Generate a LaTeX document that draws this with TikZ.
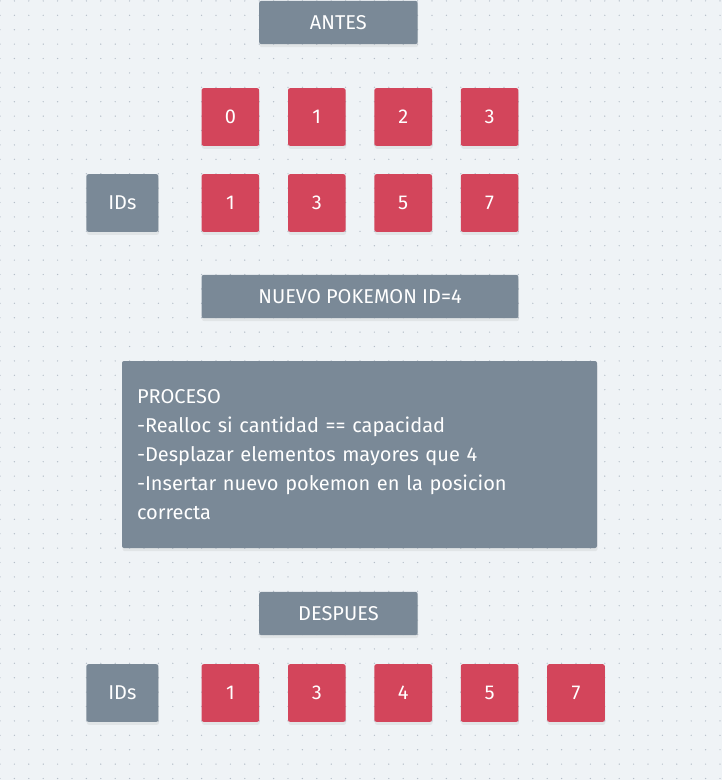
\documentclass[tikz,border=0pt]{standalone}
\usepackage{fontspec}
\setsansfont{Fira Sans}
\usetikzlibrary{positioning, shadows}
\definecolor{pkBack}{RGB}{239, 243, 246}
\definecolor{pkDot}{RGB}{180, 190, 200}
\definecolor{pkGray}{RGB}{122, 137, 151}
\definecolor{pkRed}{RGB}{211, 69, 91}
\tikzset{
    base/.style={
        font=\sffamily\fontsize{20}{29}\selectfont,
        text=white,
        align=center
    },
    panel/.style={
        base,
        rectangle,
        rounded corners=2pt,
        fill=pkGray,
        inner sep=0pt,
        drop shadow={opacity=0.12, shadow xshift=0.5pt, shadow yshift=-3pt}
    },
    cell/.style={
        panel,
        fill=pkRed,
        minimum width=57.6pt,
        minimum height=57.6pt
    },
    title/.style={
        panel,
        minimum height=43.2pt
    }
}

\begin{document}
\begin{tikzpicture}[x=1pt, y=-1pt]
  \useasboundingbox (0,0) rectangle (722,780);
  % Background grid
  \fill[pkBack] (0,0) rectangle (722,780);
  \foreach \r in {0,...,54}
    \draw[pkDot, line width=1.4pt, line cap=round, dash pattern=on 0pt off 14.4pt]
      (0,0.9+\r*14.4) -- (722,0.9+\r*14.4);

  % Antes
  \node[title, minimum width=158.4pt] (antes) at (338.4,22.5) {ANTES};
  \foreach \v [count=\i from 0] in {0,1,2,3}
    \node[cell] (pos\i) at (230.4+86.4*\i,117) {\v};
  \node[panel, minimum width=72pt, minimum height=57.6pt] (ids1) at (122.4,203) {IDs};
  \foreach \v [count=\i from 0] in {1,3,5,7}
    \node[cell] (old\i) at (230.4+86.4*\i,203) {\v};

  % Nuevo elemento
  \node[title, minimum width=316.8pt] (nuevo) at (360,296.5) {NUEVO POKEMON ID=4};

  % Proceso
  \node[panel, minimum width=475pt, minimum height=187pt, text width=445pt, align=left] (proceso) at (359.5,454.5)
    {PROCESO\\-Realloc si cantidad == capacidad\\-Desplazar elementos mayores que 4\\-Insertar nuevo pokemon en la posicion\\correcta};

  % Despues
  \node[title, minimum width=158.4pt] (despues) at (338.4,613.5) {DESPUES};
  \node[panel, minimum width=72pt, minimum height=57.6pt] (ids2) at (122.4,693) {IDs};
  \foreach \v [count=\i from 0] in {1,3,4,5,7}
    \node[cell] (new\i) at (230.4+86.4*\i,693) {\v};
\end{tikzpicture}
\end{document}
